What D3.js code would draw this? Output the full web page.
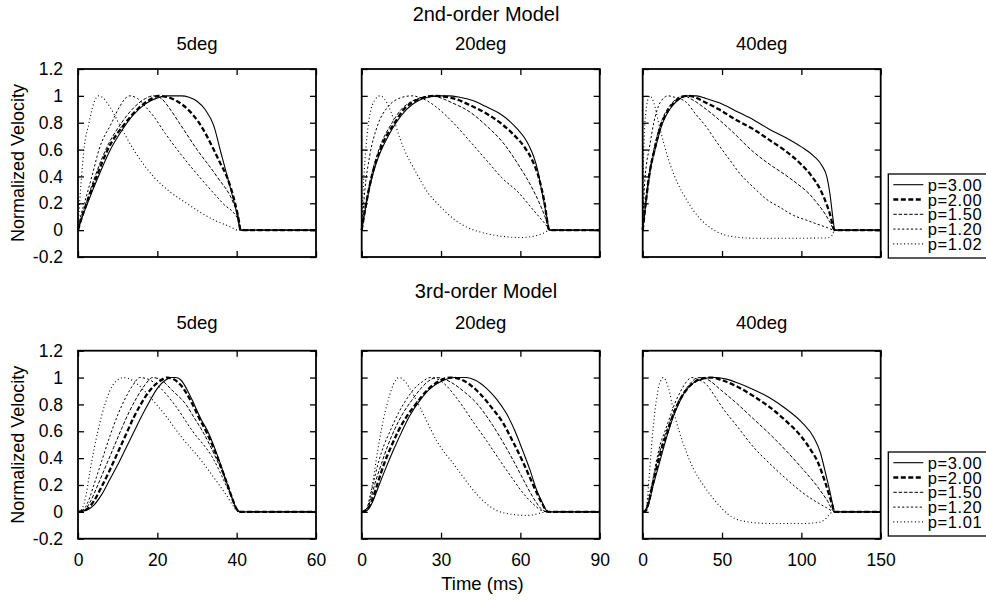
<!DOCTYPE html>
<html>
<head>
<meta charset="utf-8">
<script src="https://cdn.jsdelivr.net/npm/d3@7"></script>
<style>
  html, body { margin: 0; padding: 0; background: #fff; }
  svg text { font-family: "Liberation Sans", Arial, Helvetica, sans-serif; fill: #000; }
</style>
</head>
<body>
<div id="chart"></div>
<script>
/* ── Data ────────────────────────────────────────────────────────────── */
const AMPLITUDES    = ['5deg', '20deg', '40deg'];
const T_MAX         = [60, 90, 150];
const X_TICKS       = [[0, 20, 40, 60], [0, 30, 60, 90], [0, 50, 100, 150]];
const Y_TICKS       = [-0.2, 0, 0.2, 0.4, 0.6, 0.8, 1, 1.2];
const Y_TICK_LABELS = ['-0.2', '0', '0.2', '0.4', '0.6', '0.8', '1', '1.2'];
const ROW_TITLES    = ['2nd-order Model', '3rd-order Model'];
const LEGEND_2ND    = ['p=3.00', 'p=2.00', 'p=1.50', 'p=1.20', 'p=1.02'];
const LEGEND_3RD    = ['p=3.00', 'p=2.00', 'p=1.50', 'p=1.20', 'p=1.01'];

// [time ms, normalized velocity], order p=3, 2, 1.5, 1.2, ~1
const O2_5DEG = [
  [[0,0],[1,0.09],[2.4,0.2],[5,0.39],[8,0.59],[11,0.74],[14,0.86],[17,0.94],[20,0.985],[22.5,1],[26,1],[28,0.99],[30,0.96],[32,0.9],[34.2,0.78],[36,0.58],[38,0.36],[40,0.13],[41,0],[60,0]],
  [[0,0],[1,0.1],[2.2,0.2],[4.7,0.4],[7.5,0.6],[12,0.8],[15,0.9],[18,0.97],[20.3,1],[22,0.995],[25,0.96],[28,0.89],[30.5,0.8],[32.5,0.7],[34.2,0.6],[36,0.49],[37.5,0.4],[39.6,0.2],[40.5,0.08],[41,0],[60,0]],
  [[0,0],[1,0.11],[2,0.2],[4.3,0.4],[7,0.6],[11,0.8],[14,0.91],[17,0.98],[19,1],[21,0.98],[23,0.91],[25.5,0.8],[30,0.6],[35,0.4],[39.2,0.2],[40.5,0.09],[41,0],[60,0]],
  [[0,0],[0.8,0.12],[1.6,0.2],[3.5,0.4],[5.3,0.6],[8.5,0.8],[10.5,0.92],[13,1],[15,0.98],[17,0.92],[19,0.85],[22,0.72],[25,0.6],[30.5,0.4],[36.5,0.2],[40.5,0.07],[41,0],[60,0]],
  [[0,0],[0.4,0.2],[0.9,0.4],[1.5,0.6],[2.8,0.8],[3.8,0.93],[5.2,1],[6.5,0.98],[8,0.92],[10.2,0.8],[14,0.6],[19,0.4],[23,0.29],[27.4,0.2],[31,0.13],[34,0.08],[38,0.03],[40.5,0],[41,0],[60,0]]
];
const O2_20DEG = [
  [[0,0],[1.8,0.2],[4,0.4],[5.5,0.5],[7.5,0.6],[10,0.7],[13,0.8],[17,0.9],[21,0.96],[25,0.99],[28.3,1],[33,1],[37,0.99],[42,0.965],[47,0.92],[52,0.87],[56,0.81],[59,0.75],[61.5,0.69],[63.5,0.62],[65,0.55],[66.5,0.45],[68,0.3],[70,0.1],[71,0],[90,0]],
  [[0,0],[1.7,0.2],[3.8,0.4],[7,0.6],[12.5,0.8],[16,0.9],[20,0.96],[24,0.99],[27.7,1],[31,0.995],[35,0.98],[41,0.93],[47,0.87],[53,0.79],[57.5,0.71],[61.5,0.62],[64.5,0.52],[67,0.39],[69,0.22],[71,0],[90,0]],
  [[0,0],[1.6,0.2],[3.6,0.4],[6.5,0.6],[11.5,0.8],[15,0.9],[19,0.96],[23,0.99],[25.8,1],[29,0.99],[34,0.95],[40.9,0.88],[47,0.78],[53.5,0.65],[59.8,0.47],[64,0.33],[67,0.21],[69.5,0.09],[71,0],[90,0]],
  [[0,0],[1.2,0.3],[3,0.55],[6,0.78],[10,0.92],[14,0.98],[18.9,1],[23,0.98],[28,0.92],[34.6,0.8],[41,0.66],[47.2,0.52],[53,0.39],[59.8,0.27],[64,0.17],[67.5,0.09],[70,0.03],[71,0],[90,0]],
  [[0,0],[0.5,0.28],[1,0.45],[2,0.7],[3,0.85],[4,0.93],[5,0.97],[6.9,1],[8.5,0.98],[10,0.93],[12,0.83],[14.5,0.68],[17,0.56],[20,0.45],[25,0.28],[30,0.17],[35,0.08],[40,0.02],[47,-0.025],[55,-0.05],[60,-0.055],[65,-0.045],[69,-0.02],[71,0],[90,0]]
];
const O2_40DEG = [
  [[0,0],[2,0.2],[4.2,0.4],[6,0.52],[7.8,0.6],[10,0.7],[12,0.78],[15,0.86],[19,0.93],[23,0.975],[28,1],[34,1],[40,0.98],[50,0.94],[60,0.88],[70,0.82],[80,0.75],[90,0.69],[100,0.62],[108,0.55],[113,0.48],[116,0.4],[118,0.27],[120,0.08],[121,0],[150,0]],
  [[0,0],[1.9,0.2],[4,0.4],[7.5,0.6],[11.5,0.78],[15,0.87],[19,0.94],[23,0.98],[28,1],[33,0.99],[38,0.96],[48,0.9],[59,0.82],[70,0.75],[80,0.67],[90,0.59],[99,0.5],[106,0.41],[112,0.3],[116,0.19],[118,0.12],[121,0],[150,0]],
  [[0,0],[1.8,0.2],[3.8,0.4],[7,0.6],[11,0.78],[14,0.87],[18,0.94],[22,0.985],[26,1],[30,0.98],[40,0.9],[55,0.75],[70,0.58],[80,0.49],[90,0.41],[98,0.34],[105,0.27],[110,0.2],[115,0.12],[118,0.06],[121,0],[150,0]],
  [[0,0],[1,0.3],[2.5,0.5],[4,0.6],[7,0.8],[11,0.95],[16,1],[20,0.99],[27.7,0.95],[33,0.87],[40,0.77],[47,0.65],[55,0.52],[62,0.41],[69.7,0.32],[78,0.23],[86.5,0.17],[95,0.11],[103,0.075],[110,0.045],[116,0.02],[121,0],[150,0]],
  [[0,0],[0.5,0.5],[1,0.7],[2,0.88],[3,0.96],[4.6,1],[6,0.98],[7,0.95],[10,0.8],[13,0.66],[17,0.5],[22,0.35],[28,0.22],[35,0.1],[45,0],[55,-0.045],[70,-0.06],[100,-0.06],[115,-0.058],[119,-0.045],[121,0],[150,0]]
];
const O3_5DEG = [
  [[0,0],[2,0.01],[4,0.05],[6,0.13],[8,0.24],[10,0.35],[12,0.47],[14,0.59],[16,0.71],[18,0.82],[20,0.92],[22,0.98],[23.5,1],[24.7,1],[26,0.98],[27.5,0.91],[29.3,0.8],[31,0.69],[32.7,0.6],[35.4,0.4],[37.7,0.2],[39,0.09],[40,0.02],[41,0],[60,0]],
  [[0,0],[2,0.015],[4,0.08],[6,0.19],[8,0.31],[10,0.44],[12,0.57],[14,0.7],[16,0.81],[18,0.9],[20,0.96],[21.5,0.99],[22.5,1],[24,0.99],[26,0.94],[28.9,0.8],[30.5,0.7],[32.3,0.6],[35.2,0.4],[37.7,0.2],[39,0.09],[40,0.02],[41,0],[60,0]],
  [[0,0],[1.5,0.01],[3,0.07],[5,0.2],[7,0.34],[9,0.48],[11,0.62],[13,0.75],[15,0.86],[17,0.95],[18.8,1],[20.5,0.99],[23.9,0.9],[27.2,0.8],[29.3,0.7],[31.4,0.6],[34.8,0.4],[37.7,0.2],[39,0.09],[40,0.02],[41,0],[60,0]],
  [[0,0],[1.5,0.02],[3,0.11],[4,0.2],[6,0.38],[8,0.56],[10,0.72],[12,0.85],[14,0.95],[15.5,1],[17.5,0.99],[20.5,0.93],[24.3,0.8],[28.9,0.6],[34,0.4],[37.3,0.2],[39,0.09],[40,0.02],[41,0],[60,0]],
  [[0,0],[1,0.02],[2,0.12],[3,0.3],[4,0.46],[5,0.6],[6,0.72],[7,0.82],[8,0.9],[9.5,0.97],[11.5,1],[13,0.99],[15,0.95],[18,0.86],[22,0.72],[26,0.56],[30.6,0.4],[35.6,0.2],[37.5,0.12],[39,0.05],[40.5,0],[60,0]]
];
const O3_20DEG = [
  [[0,0],[2,0.01],[4,0.07],[6,0.17],[9,0.32],[12,0.46],[15,0.59],[18,0.71],[22,0.83],[26,0.92],[30,0.97],[35.2,1],[39.6,1],[43,0.98],[47.2,0.92],[51,0.84],[54.8,0.73],[58,0.6],[61,0.45],[63.5,0.32],[66,0.17],[68,0.08],[70.5,0],[90,0]],
  [[0,0],[2,0.015],[4,0.09],[6,0.21],[8.5,0.36],[11,0.48],[13.8,0.6],[17,0.71],[20.8,0.81],[25,0.91],[29,0.97],[33.4,1],[37,0.99],[40,0.96],[44.7,0.88],[49,0.78],[53.5,0.66],[57,0.53],[61,0.37],[63.5,0.26],[66,0.15],[68,0.07],[70.5,0],[90,0]],
  [[0,0],[2,0.02],[3.5,0.1],[5,0.21],[7.5,0.36],[10,0.5],[12.6,0.62],[15.5,0.73],[18.9,0.83],[22,0.91],[25,0.97],[28.3,1],[31,0.99],[35,0.95],[39,0.89],[43.4,0.81],[48,0.69],[52.2,0.56],[56,0.43],[59.8,0.29],[63,0.17],[66,0.07],[68,0.02],[70.5,0],[90,0]],
  [[0,0],[2,0.03],[3,0.1],[4.2,0.2],[6.5,0.38],[8.5,0.5],[10.7,0.6],[14,0.74],[17,0.84],[20,0.92],[23,0.97],[25.8,1],[28.5,0.99],[32,0.94],[35,0.87],[38.4,0.78],[42.5,0.66],[47.2,0.53],[52,0.39],[57.3,0.24],[61,0.14],[64.8,0.06],[68,0.01],[70.5,0],[90,0]],
  [[0,0],[2,0.03],[4,0.2],[6,0.45],[8,0.67],[10,0.83],[12,0.95],[14.2,1],[16,0.98],[19,0.89],[22,0.78],[25,0.66],[28.3,0.53],[31,0.45],[34.6,0.36],[38,0.27],[41,0.19],[44,0.12],[47.2,0.06],[51,0.01],[54.8,-0.012],[58,-0.022],[62.3,-0.027],[65,-0.022],[67.3,-0.01],[70,0],[90,0]]
];
const O3_40DEG = [
  [[0,0],[2,0.01],[4,0.07],[6.7,0.2],[10,0.34],[13,0.47],[16.2,0.6],[19,0.7],[22.5,0.8],[27,0.9],[32,0.96],[38,0.99],[45,1],[52,0.99],[60,0.96],[70,0.91],[80,0.85],[90,0.77],[100,0.67],[108,0.55],[112,0.44],[115,0.3],[118,0.15],[120,0.04],[121,0],[150,0]],
  [[0,0],[2,0.01],[4,0.08],[6.2,0.2],[9.5,0.36],[12.5,0.49],[15.8,0.6],[18.5,0.7],[22,0.8],[27,0.9],[33,0.97],[38,0.995],[44,1],[50,0.98],[60,0.93],[70,0.86],[80,0.78],[90,0.68],[100,0.56],[106,0.46],[110,0.38],[115,0.22],[119,0.07],[121,0],[150,0]],
  [[0,0],[2,0.015],[4,0.09],[6,0.2],[9,0.37],[12,0.5],[15.5,0.62],[18.5,0.71],[22,0.81],[27,0.91],[31,0.97],[35,1],[40,0.99],[50,0.9],[60,0.8],[70,0.69],[80,0.58],[90,0.46],[100,0.33],[110,0.19],[116,0.09],[121,0],[150,0]],
  [[0,0],[2,0.02],[3.5,0.1],[5.7,0.2],[8.5,0.37],[11,0.5],[14,0.6],[17,0.7],[20,0.8],[24,0.9],[27,0.96],[30.9,1],[34,0.99],[40,0.95],[45,0.87],[50,0.78],[60,0.63],[70,0.48],[80,0.36],[90,0.25],[100,0.15],[110,0.07],[116,0.03],[121,0],[150,0]],
  [[0,0],[2,0.02],[3,0.1],[4,0.25],[5,0.4],[6,0.55],[7,0.67],[8,0.78],[9,0.86],[10,0.93],[11.5,0.98],[13,1],[14.5,0.98],[16.5,0.91],[19.3,0.76],[23,0.6],[27.7,0.44],[32,0.32],[38.2,0.2],[43,0.12],[48.7,0.04],[54,-0.02],[59.2,-0.055],[65,-0.072],[80,-0.087],[101,-0.087],[108,-0.082],[112,-0.075],[115,-0.055],[117,-0.03],[120,0],[150,0]]
];

/* ── Layout / style ──────────────────────────────────────────────────── */
const W = 986, H = 605;
const PANEL_X = [78, 361.7, 642.7];
const ROW_Y   = [69, 350.7];
const PANEL_W = 238, PANEL_H = 188;
const TITLE_Y = [20.7, 298.3];   // row title baselines
const SUB_Y   = [50, 329.3];     // amplitude title baselines
const LEG_Y   = [174, 452];      // legend box tops
const FONT    = '"Liberation Sans", Arial, Helvetica, sans-serif';

const LINE_STYLES = [
  { w: 1.1, dash: null },
  { w: 2.3, dash: '5,2.5' },
  { w: 1.0, dash: '3.5,1.8' },
  { w: 1.0, dash: '2.2,2.2' },
  { w: 1.1, dash: '1,2.6' },
];

/* ── Panel ───────────────────────────────────────────────────────────── */
function drawPanel(svg, row, col, series) {
  const g = svg.append('g')
    .attr('transform', `translate(${PANEL_X[col]},${ROW_Y[row]})`);

  const x = d3.scaleLinear().domain([0, T_MAX[col]]).range([0, PANEL_W]);
  const y = d3.scaleLinear().domain([-0.2, 1.2]).range([PANEL_H, 0]);

  const line = d3.line()
    .x(d => x(d[0]))
    .y(d => y(d[1]))
    .curve(d3.curveMonotoneX);

  // dotted first so the heavier styles sit on top
  for (let i = series.length - 1; i >= 0; i--) {
    const st = LINE_STYLES[i];
    g.append('path')
      .attr('d', line(series[i]))
      .attr('fill', 'none')
      .attr('stroke', '#000')
      .attr('stroke-width', st.w)
      .attr('stroke-dasharray', st.dash);
  }

  const styleAxis = a => {
    a.select('.domain').remove();
    a.selectAll('.tick line').attr('stroke', '#000').attr('stroke-width', 1.3);
    a.attr('font-size', 17.5).attr('font-family', FONT);
  };

  const xTicks = X_TICKS[col];
  g.append('g')
    .attr('transform', `translate(0,${PANEL_H})`)
    .call(d3.axisBottom(x).tickValues(xTicks).tickSize(-6).tickSizeOuter(0).tickPadding(15)
      .tickFormat(d => row === 1 ? String(d) : ''))
    .call(styleAxis);
  g.append('g')
    .call(d3.axisTop(x).tickValues(xTicks).tickSize(-6).tickSizeOuter(0).tickFormat(''))
    .call(styleAxis);
  g.append('g')
    .call(d3.axisLeft(y).tickValues(Y_TICKS).tickSize(-6).tickSizeOuter(0).tickPadding(15)
      .tickFormat((d, i) => col === 0 ? Y_TICK_LABELS[i] : ''))
    .call(styleAxis);
  g.append('g')
    .attr('transform', `translate(${PANEL_W},0)`)
    .call(d3.axisRight(y).tickValues(Y_TICKS).tickSize(-6).tickSizeOuter(0).tickFormat(''))
    .call(styleAxis);

  g.append('rect')
    .attr('width', PANEL_W).attr('height', PANEL_H)
    .attr('fill', 'none').attr('stroke', '#000').attr('stroke-width', 1.8);

  // amplitude title
  svg.append('text')
    .attr('x', PANEL_X[col] + PANEL_W / 2).attr('y', SUB_Y[row])
    .attr('text-anchor', 'middle')
    .attr('font-size', 18.5)
    .text(AMPLITUDES[col]);

  if (col === 0) {
    svg.append('text')
      .attr('transform', `translate(24,${ROW_Y[row] + PANEL_H / 2}) rotate(-90)`)
      .attr('text-anchor', 'middle')
      .attr('font-size', 18)
      .text('Normalized Velocity');
  }
}

/* ── Legend ──────────────────────────────────────────────────────────── */
function drawLegend(svg, row, labels) {
  const rowH = 14.8;
  const g = svg.append('g').attr('transform', `translate(888.3,${LEG_Y[row]})`);

  g.append('rect')
    .attr('width', 112).attr('height', 84)
    .attr('fill', '#fff').attr('stroke', '#000').attr('stroke-width', 1.3);

  labels.forEach((lab, i) => {
    const base = 16.7 + i * rowH;
    const st = LINE_STYLES[i];
    g.append('line')
      .attr('x1', 5).attr('x2', 35)
      .attr('y1', base - 6).attr('y2', base - 6)
      .attr('stroke', '#000')
      .attr('stroke-width', st.w)
      .attr('stroke-dasharray', st.dash);
    g.append('text')
      .attr('x', 39.5).attr('y', base)
      .attr('font-size', 16.5)
      .attr('textLength', 54)
      .text(lab);
  });
}

/* ── Main ────────────────────────────────────────────────────────────── */
const svg = d3.select('#chart').append('svg')
  .attr('width', W).attr('height', H)
  .attr('viewBox', `0 0 ${W} ${H}`)
  .style('font-family', FONT);

ROW_TITLES.forEach((t, r) => {
  svg.append('text')
    .attr('x', 486).attr('y', TITLE_Y[r])
    .attr('text-anchor', 'middle')
    .attr('font-size', 20)
    .text(t);
});

const ROWS = [[O2_5DEG, O2_20DEG, O2_40DEG], [O3_5DEG, O3_20DEG, O3_40DEG]];
ROWS.forEach((panels, r) => panels.forEach((s, c) => drawPanel(svg, r, c, s)));

drawLegend(svg, 0, LEGEND_2ND);
drawLegend(svg, 1, LEGEND_3RD);

svg.append('text')
  .attr('x', 482.5).attr('y', 590)
  .attr('text-anchor', 'middle')
  .attr('font-size', 18.5)
  .text('Time (ms)');
</script>
</body>
</html>
